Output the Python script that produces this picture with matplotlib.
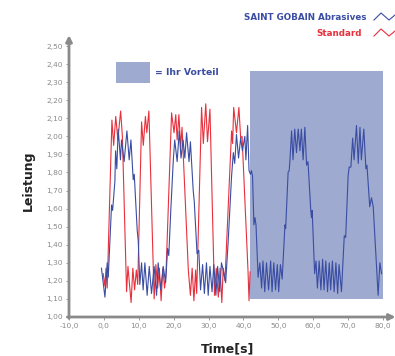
import matplotlib
matplotlib.use("Agg")
import matplotlib.pyplot as plt
from matplotlib.patches import Rectangle
from matplotlib.lines import Line2D

# SAINT GOBAIN Abrasives
blue_x = [-0.7, 0.3, 0.95, 1.25, 2.2, 2.5, 3.15, 3.35, 3.7, 4.1, 4.75, 5.05, 5.8, 6.6, 7.25, 7.75,
          8.4, 8.7, 9.55, 9.85, 10.3, 10.8, 11.25, 11.75, 12.4, 13.0, 13.65, 14.4, 15.1, 15.55, 16.3,
          17.0, 17.7, 18.25, 18.6, 19.2, 19.9, 20.3, 21.0, 21.6, 22.1, 22.7, 23.2, 23.7, 24.4, 24.8,
          25.6, 25.9, 26.7, 27.2, 27.7, 28.3, 28.8, 29.4, 29.9, 30.4, 31.0, 31.5, 32.1, 32.6, 33.2,
          33.7, 34.2, 34.9, 35.6, 36.6, 37.1, 37.5, 38.0, 38.6, 39.2, 39.7, 40.4, 40.7, 41.2, 41.6,
          42.0, 42.3, 42.6, 43.0, 43.3, 43.6, 44.2, 44.7, 45.2, 45.6, 46.1, 46.6, 47.2, 47.8, 48.2,
          48.7, 49.2, 49.7, 50.1, 50.6, 51.1, 51.9, 52.1, 52.8, 53.1, 53.3, 53.8, 54.2, 54.7, 55.2,
          55.7, 56.2, 56.6, 57.1, 57.6, 58.1, 58.5, 59.3, 59.5, 59.7, 60.4, 60.8, 61.2, 61.7, 62.2,
          62.7, 63.1, 63.6, 64.1, 64.6, 65.0, 65.5, 66.0, 66.5, 67.0, 67.4, 68.1, 68.9, 69.3, 70.0,
          70.3, 70.8, 71.3, 71.7, 72.4, 72.9, 73.4, 73.8, 74.5, 75.1, 75.4, 76.2, 76.7, 77.2, 77.9,
          78.6, 79.1, 79.6]
blue_y = [1.27, 1.11, 1.30, 1.22, 1.62, 1.59, 1.75, 1.92, 1.82, 2.04, 1.87, 1.98, 1.86, 2.03, 1.87, 1.98,
          1.76, 1.79, 1.48, 1.42, 1.18, 1.30, 1.15, 1.30, 1.12, 1.28, 1.13, 1.28, 1.12, 1.30, 1.15,
          1.28, 1.19, 1.38, 1.34, 1.60, 1.87, 1.98, 1.86, 2.03, 1.88, 1.98, 1.88, 2.02, 1.86, 1.97,
          1.70, 1.64, 1.35, 1.37, 1.15, 1.29, 1.13, 1.30, 1.12, 1.28, 1.14, 1.29, 1.12, 1.28, 1.14,
          1.30, 1.26, 1.19, 1.41, 1.78, 1.91, 1.85, 2.01, 1.88, 1.99, 1.92, 2.00, 1.87, 2.06, 1.81,
          1.79, 1.81, 1.78, 1.51, 1.55, 1.51, 1.22, 1.30, 1.16, 1.31, 1.14, 1.30, 1.15, 1.31, 1.14,
          1.30, 1.15, 1.29, 1.14, 1.29, 1.21, 1.51, 1.49, 1.80, 1.81, 1.86, 2.03, 1.87, 2.04, 1.91,
          2.04, 1.92, 2.04, 1.87, 2.05, 1.84, 1.86, 1.59, 1.55, 1.59, 1.24, 1.31, 1.16, 1.31, 1.15,
          1.32, 1.15, 1.31, 1.14, 1.30, 1.15, 1.31, 1.14, 1.30, 1.13, 1.29, 1.14, 1.45, 1.44, 1.78,
          1.83, 1.83, 1.99, 1.87, 2.06, 1.85, 2.05, 1.87, 2.04, 1.82, 1.84, 1.61, 1.66, 1.61, 1.36,
          1.12, 1.30, 1.24]

# Standard
red_x = [-0.2, 0.3, 0.6, 0.95, 2.3, 2.8, 3.4, 4.0, 4.8, 5.3, 6.5, 6.9, 7.3, 7.8, 8.3, 8.8, 9.3, 9.7,
         10.8, 11.3, 11.9, 12.3, 12.9, 14.4, 14.9, 15.4, 15.9, 16.4, 16.9, 17.4, 17.8, 19.4, 20.1,
         20.6, 21.0, 21.5, 22.0, 22.4, 24.2, 24.8, 25.3, 25.8, 26.3, 26.6, 28.0, 28.5, 29.2, 29.7,
         30.4, 31.7, 32.2, 32.8, 33.3, 33.8, 34.2, 34.7, 36.6, 36.9, 37.2, 38.0, 38.7, 39.2, 39.6,
         41.3, 41.6, 41.9]
red_y = [1.24, 1.17, 1.27, 1.16, 2.09, 1.95, 2.11, 1.98, 2.14, 2.00, 1.14, 1.28, 1.19, 1.08, 1.27, 1.15,
         1.26, 1.18, 2.08, 1.95, 2.11, 2.02, 2.14, 1.10, 1.29, 1.16, 1.27, 1.09, 1.27, 1.16, 1.24,
         2.13, 2.02, 2.12, 1.98, 2.12, 1.94, 2.05, 1.26, 1.12, 1.27, 1.09, 1.26, 1.13, 2.16, 1.96,
         2.18, 1.97, 2.15, 1.12, 1.27, 1.11, 1.27, 1.08, 1.27, 1.20, 2.03, 1.96, 2.16, 2.02, 2.16,
         1.99, 2.00, 1.26, 1.09, 1.25]

vorteil_x = [42.0, 80.0]
vorteil_y = [1.10, 2.36]
key_x = [3.5, 13.2]
key_y = [2.295, 2.41]

x_ticks = [-10, 0, 10, 20, 30, 40, 50, 60, 70, 80]
x_labels = ["-10,0", "0,0", "10,0", "20,0", "30,0", "40,0", "50,0", "60,0", "70,0", "80,0"]
y_ticks = [1.0, 1.1, 1.2, 1.3, 1.4, 1.5, 1.6, 1.7, 1.8, 1.9, 2.0, 2.1, 2.2, 2.3, 2.4, 2.5]
y_labels = ["1,00", "1,10", "1,20", "1,30", "1,40", "1,50", "1,60", "1,70", "1,80", "1,90",
            "2,00", "2,10", "2,20", "2,30", "2,40", "2,50"]

BLUE = "#3a4da3"
RED = "#e8303c"
SHADE = "#9eaad0"
GREY = "#8a8a8a"

fig = plt.figure(figsize=(3.95, 3.56), dpi=100)
ax = fig.add_axes([69 / 395, 39 / 356, 314 / 395, 271 / 356])

ax.add_patch(Rectangle((vorteil_x[0], vorteil_y[0]), vorteil_x[1] - vorteil_x[0],
                       vorteil_y[1] - vorteil_y[0], facecolor=SHADE, edgecolor="none", zorder=1))
ax.add_patch(Rectangle((key_x[0], key_y[0]), key_x[1] - key_x[0], key_y[1] - key_y[0],
                       facecolor=SHADE, edgecolor="none", zorder=1))
ax.text(key_x[1] + 1.5, (key_y[0] + key_y[1]) / 2, "= Ihr Vorteil", color=BLUE,
        fontsize=6.7, fontweight="bold", va="center", ha="left")

ax.plot(red_x, red_y, color=RED, lw=0.8, zorder=3)
ax.plot(blue_x, blue_y, color=BLUE, lw=0.8, zorder=4)

ax.set_xlim(-10, 80)
ax.set_ylim(1.0, 2.5)
ax.set_xticks(x_ticks)
ax.set_xticklabels(x_labels)
ax.set_yticks(y_ticks)
ax.set_yticklabels(y_labels)
ax.tick_params(axis="both", colors=GREY, labelsize=5.4, length=2.5, width=0.6, pad=2)

for s in ["top", "right", "left", "bottom"]:
    ax.spines[s].set_visible(False)

# axis arrows
ax.annotate("", xy=(0, 1.04), xytext=(0, -0.005), xycoords="axes fraction",
            arrowprops=dict(arrowstyle="-|>", color=GREY, lw=2, mutation_scale=9,
                            shrinkA=0, shrinkB=0), annotation_clip=False)
ax.annotate("", xy=(1.04, 0), xytext=(-0.005, 0), xycoords="axes fraction",
            arrowprops=dict(arrowstyle="-|>", color=GREY, lw=2, mutation_scale=9,
                            shrinkA=0, shrinkB=0), annotation_clip=False)

fig.text(28 / 395, 1 - 181 / 356, "Leistung", rotation=90, ha="center", va="center",
         fontsize=9, fontweight="bold", color="#222222")
fig.text(228 / 395, 1 - 349 / 356, "Time[s]", ha="center", va="center",
         fontsize=9, fontweight="bold", color="#222222")

# legend
fig.text(366 / 395, 1 - 17 / 356, "SAINT GOBAIN Abrasives", ha="right", va="center",
         fontsize=6.3, fontweight="bold", color=BLUE)
fig.text(362 / 395, 1 - 33 / 356, "Standard", ha="right", va="center",
         fontsize=6.3, fontweight="bold", color=RED)
fig.add_artist(Line2D([374 / 395, 381 / 395, 389 / 395, 395 / 395],
                      [1 - 20 / 356, 1 - 13 / 356, 1 - 20 / 356, 1 - 15 / 356],
                      color=BLUE, lw=0.8))
fig.add_artist(Line2D([374 / 395, 381 / 395, 389 / 395, 395 / 395],
                      [1 - 36 / 356, 1 - 29 / 356, 1 - 36 / 356, 1 - 31 / 356],
                      color=RED, lw=0.8))

fig.savefig("out.png", dpi=100, facecolor="white")
